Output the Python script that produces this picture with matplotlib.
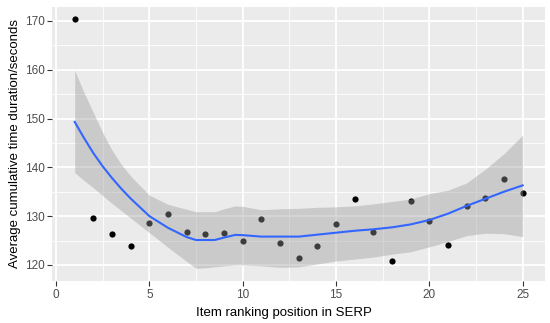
import numpy as np
import matplotlib.pyplot as plt
from matplotlib.ticker import MultipleLocator

# Observed points: average cumulative time per ranking position
positions = list(range(1, 26))
durations = [170.3, 129.6, 126.3, 123.8, 128.5, 130.4, 126.8, 126.4, 126.6, 124.9,
             129.4, 124.4, 121.4, 123.9, 128.3, 133.5, 126.8, 120.7, 133.1, 129.0,
             124.0, 132.0, 133.7, 137.6, 134.8]

# Smoothed trend (loess) and its confidence band
smooth_x = [1, 1.5, 2, 2.5, 3, 3.5, 4, 5, 6, 7, 7.5, 8, 8.5, 9, 9.6, 10, 11, 12, 13,
            14, 15, 16, 17, 18, 19, 20, 21, 22, 23, 24, 25]
smooth_fit = [149.3, 146.0, 142.9, 140.2, 137.8, 135.6, 133.6, 130.0, 127.6, 125.7,
              125.1, 125.1, 125.1, 125.6, 126.15, 126.1, 125.8, 125.8, 125.8,
              126.2, 126.6, 127.0, 127.3, 127.7, 128.3, 129.2, 130.5, 132.1,
              133.55, 135.0, 136.3]
smooth_lo = [138.9, 137.3, 135.8, 134.2, 132.6, 131.1, 129.6, 126.6, 123.6, 120.7,
             119.3, 119.4, 119.6, 119.8, 120.0, 120.0, 119.8, 119.5, 119.6,
             120.2, 120.8, 121.2, 121.6, 122.2, 122.7, 123.7, 124.8, 126.0,
             126.5, 126.4, 125.8]
smooth_hi = [159.9, 155.3, 151.2, 147.1, 143.5, 140.6, 138.2, 134.3, 132.4, 131.4,
             130.9, 130.9, 130.9, 131.5, 132.1, 132.0, 131.3, 131.5, 131.6,
             131.8, 131.9, 132.1, 132.5, 133.0, 133.5, 134.6, 135.3, 136.8,
             139.6, 142.8, 146.6]

plt.rcParams['font.family'] = ['Liberation Sans', 'DejaVu Sans']

fig = plt.figure(figsize=(5.5, 3.23), dpi=100)
ax = fig.add_axes([0.0951, 0.130, 0.8959, 0.849])
ax.set_facecolor('#EBEBEB')
for s in ax.spines.values():
    s.set_visible(False)

ax.scatter(positions, durations, s=20, color='black', zorder=3, linewidths=0)
ax.fill_between(smooth_x, smooth_lo, smooth_hi, color='#999999', alpha=0.4,
                linewidth=0, zorder=4)
ax.plot(smooth_x, smooth_fit, color='#3366FF', lw=1.5, zorder=5)

ax.set_xlim(-0.2, 26.2)
ax.set_ylim(116.7, 172.9)
ax.xaxis.set_major_locator(MultipleLocator(5))
ax.xaxis.set_minor_locator(MultipleLocator(2.5))
ax.yaxis.set_major_locator(MultipleLocator(10))
ax.yaxis.set_minor_locator(MultipleLocator(5))
ax.grid(which='major', color='white', lw=1.3, zorder=0)
ax.grid(which='minor', color='white', lw=0.6, zorder=0)
ax.set_axisbelow(True)

ax.tick_params(which='major', length=3.5, width=0.8, color='#333333',
               labelcolor='#4D4D4D', labelsize=8.5, pad=2)
ax.tick_params(which='minor', length=0)

ax.set_xlabel('Item ranking position in SERP', fontsize=9.5)
ax.xaxis.set_label_coords(0.47, -0.095, transform=ax.transAxes)
ax.xaxis.label.set_va('top')
ax.set_ylabel('Average cumulative time duration/seconds', fontsize=9.5, labelpad=3)

fig.savefig('out.png', dpi=100)
